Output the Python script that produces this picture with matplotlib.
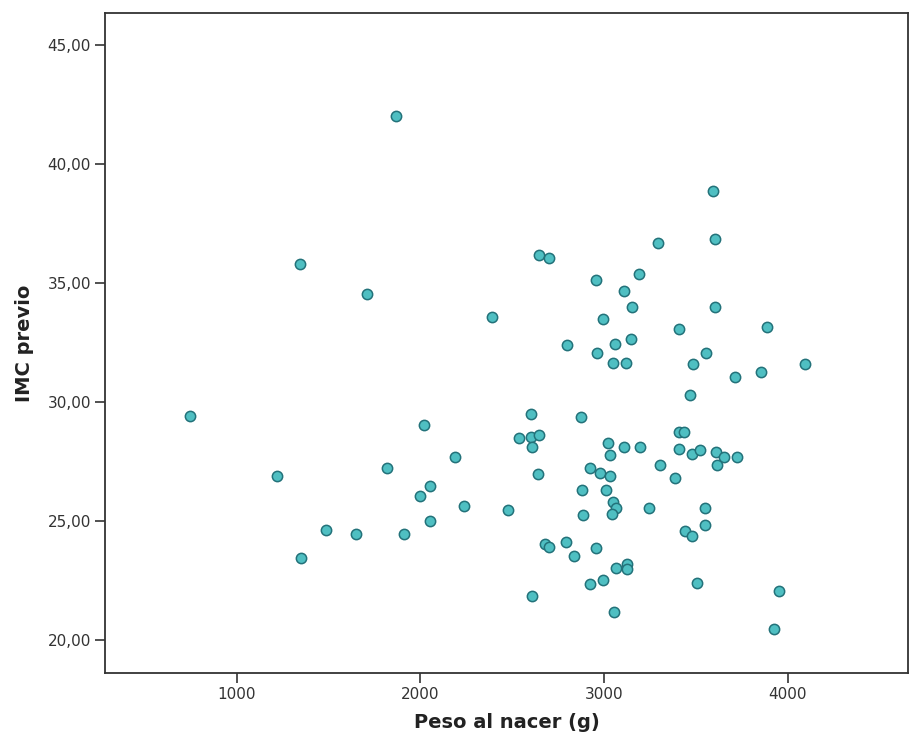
import matplotlib
matplotlib.use("Agg")
import matplotlib.pyplot as plt
from matplotlib.ticker import FuncFormatter

# birth weight (g) and previous BMI
peso = [746, 1219, 1345, 1350, 1486, 1649, 1709, 1818, 1867, 1911,
        1998, 2019, 2052, 2052, 2188, 2235, 2390, 2477,
        3591, 3602, 3292, 2647, 2702, 2956, 3192, 3110, 3152, 3602,
        2996, 3406, 3887, 2800, 3061, 3147, 2962, 3050, 3119, 3556,
        3485, 3713, 3852, 4092, 3469,
        2600, 2876, 2538, 2600, 2647, 2609, 3020, 3033, 3110, 3197,
        3408, 3432, 3408, 3480, 3522, 3611, 3654, 3722, 3616, 3303,
        3386, 2642, 2925, 2976, 3033, 2882, 3011, 3050, 3063, 3041,
        2887, 3243, 3548, 3551, 3442, 3478, 2679, 2702, 2791, 2956,
        2836, 3066, 3123, 3123, 2925, 2992, 3507, 3954, 2606, 3052,
        3927]
imc = [29.42, 26.90, 35.80, 23.46, 24.64, 24.47, 34.55, 27.24, 42.02, 24.47,
       26.06, 29.04, 26.48, 25.01, 27.70, 25.63, 33.58, 25.47,
       38.86, 36.84, 36.69, 36.17, 36.06, 35.15, 35.37, 34.67, 34.00, 34.00,
       33.49, 33.09, 33.17, 32.40, 32.46, 32.64, 32.05, 31.63, 31.63, 32.05,
       31.62, 31.05, 31.26, 31.62, 30.29,
       29.52, 29.39, 28.48, 28.53, 28.64, 28.13, 28.27, 27.78, 28.12, 28.12,
       28.76, 28.76, 28.02, 27.84, 27.99, 27.91, 27.70, 27.69, 27.35, 27.35,
       26.83, 26.97, 27.24, 27.03, 26.91, 26.30, 26.30, 25.80, 25.54, 25.30,
       25.27, 25.57, 25.54, 24.83, 24.60, 24.39, 24.03, 23.93, 24.14, 23.88,
       23.53, 23.05, 23.22, 23.01, 22.38, 22.52, 22.42, 22.07, 21.87, 21.20,
       20.46]

x_ticks = [1000, 2000, 3000, 4000]
y_ticks = [20, 25, 30, 35, 40, 45]

def draw_graph():
	fig = plt.figure(figsize=(9.09, 7.40), dpi=100)
	ax = fig.add_axes([0.1155, 0.0909, 0.8834, 0.8915])
	ax.scatter(peso, imc, s=55, c='#4fbfc2', edgecolors='#23727a', linewidths=1.1, zorder=3)
	ax.set_xlim(283, 4654)
	ax.set_ylim(18.64, 46.35)
	ax.set_xticks(x_ticks)
	ax.set_yticks(y_ticks)
	ax.yaxis.set_major_formatter(FuncFormatter(lambda v, p: ('%.2f' % v).replace('.', ',')))
	ax.tick_params(direction='out', length=7, width=1.2, color='#333333',
		labelsize=11, labelcolor='#333333', pad=3)
	for s in ax.spines.values():
		s.set_color('#333333')
		s.set_linewidth(1.3)
	ax.set_xlabel('Peso al nacer (g)', fontsize=14, fontweight='bold', color='#222222', labelpad=8)
	ax.set_ylabel('IMC previo', fontsize=14, fontweight='bold', color='#222222', labelpad=10)
	fig.savefig('out.png', dpi=100)

def main():
	draw_graph()

if __name__ == "__main__":
	main()
